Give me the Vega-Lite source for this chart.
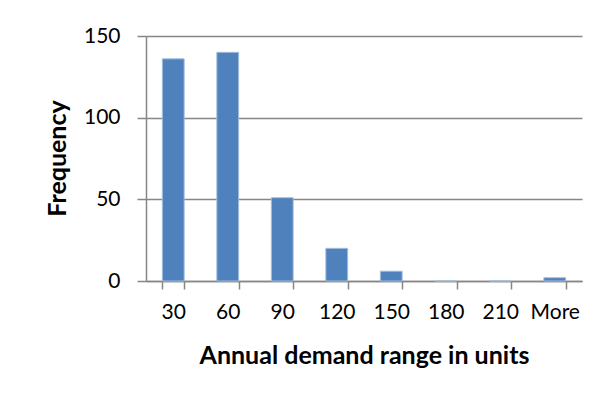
{
  "$schema": "https://vega.github.io/schema/vega-lite/v6.json",
  "autosize": "none",
  "width": 436,
  "height": 245,
  "padding": {"left": 146, "top": 36, "right": 23, "bottom": 116},
  "background": "#ffffff",
  "config": {
    "view": {"stroke": null},
    "font": "Lato",
    "axis": {
      "labelFont": "Lato",
      "labelFontSize": 21,
      "labelColor": "#000000",
      "titleFont": "Lato",
      "titleFontSize": 25,
      "titleFontWeight": "bold",
      "titleColor": "#000000",
      "domainColor": "#868686",
      "domainWidth": 1.5,
      "tickColor": "#868686",
      "tickWidth": 1.5,
      "tickSize": 8,
      "gridColor": "#868686",
      "gridWidth": 1.5,
      "gridOpacity": 1
    }
  },
  "data": {
    "values": [
      {"bin": "30", "frequency": 136},
      {"bin": "60", "frequency": 140},
      {"bin": "90", "frequency": 51},
      {"bin": "120", "frequency": 20},
      {"bin": "150", "frequency": 6},
      {"bin": "180", "frequency": 0},
      {"bin": "210", "frequency": 0},
      {"bin": "More", "frequency": 2}
    ]
  },
  "mark": {"type": "bar", "color": "#4F81BD", "stroke": "#A3BCDB", "strokeWidth": 1},
  "encoding": {
    "x": {
      "field": "bin",
      "type": "nominal",
      "sort": ["30", "60", "90", "120", "150", "180", "210", "More"],
      "scale": {"paddingInner": 0.6, "paddingOuter": 0.3},
      "axis": {
        "title": "Annual demand range in units",
        "labelAngle": 0,
        "tickBand": "extent",
        "labelPadding": 12,
        "titlePadding": 21
      }
    },
    "y": {
      "field": "frequency",
      "type": "quantitative",
      "scale": {"domain": [0, 150], "nice": false},
      "axis": {
        "title": "Frequency",
        "values": [0, 50, 100, 150],
        "tickSize": 9,
        "labelPadding": 17,
        "titleX": -89,
        "titleY": 122,
        "titleBaseline": "middle"
      }
    }
  }
}
